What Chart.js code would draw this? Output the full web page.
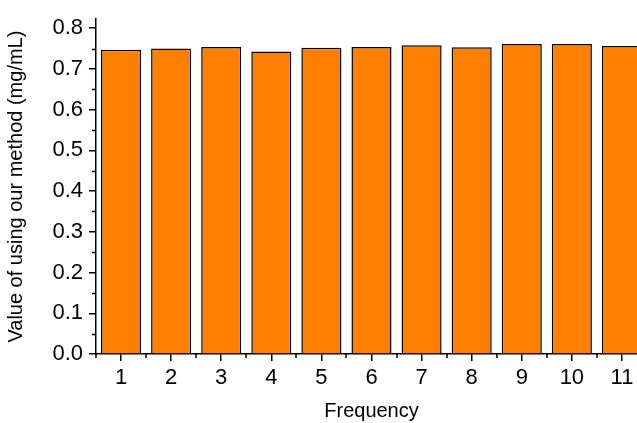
<!DOCTYPE html>
<html>
<head>
<meta charset="utf-8">
<script src="https://cdn.jsdelivr.net/npm/chart.js@4.4.1/dist/chart.umd.min.js"></script>
<style>
  html, body { margin: 0; padding: 0; background: #fff; overflow: hidden; }
  #wrap { position: relative; width: 647px; height: 423px; }
</style>
</head>
<body>
<div id="wrap"><canvas id="myChart"></canvas></div>
<script>
const categories = ['1', '2', '3', '4', '5', '6', '7', '8', '9', '10', '11'];
const methodValues = [0.747, 0.750, 0.754, 0.743, 0.752, 0.754, 0.758, 0.753, 0.761, 0.761, 0.756];
const yTicks = [0, 0.1, 0.2, 0.3, 0.4, 0.5, 0.6, 0.7, 0.8];
const yMinorTicks = [0.05, 0.15, 0.25, 0.35, 0.45, 0.55, 0.65, 0.75];

const ctx = document.getElementById('myChart').getContext('2d');
const fontFamily = '"Liberation Sans", Arial, sans-serif';

// short minor ticks on both axes
const minorTicks = {
    id: 'minorTicks',
    afterDraw(chart) {
        const c = chart.ctx;
        const x = chart.scales.x;
        const y = chart.scales.y;
        c.save();
        c.strokeStyle = '#000';
        c.lineWidth = 1.5;
        c.beginPath();
        yMinorTicks.forEach(v => {
            const py = Math.round(y.getPixelForValue(v)) + 0.5;
            c.moveTo(x.left - 4, py);
            c.lineTo(x.left, py);
        });
        for (let i = 0; i <= categories.length; i++) {
            const px = Math.round(x.getPixelForValue(i - 0.5));
            c.moveTo(px, y.bottom);
            c.lineTo(px, y.bottom + 4);
        }
        c.stroke();
        c.restore();
    }
};

new Chart(ctx, {
    type: 'bar',
    data: {
        labels: categories,
        datasets: [{
            label: 'Value',
            data: methodValues,
            backgroundColor: '#FF8000',
            borderColor: '#000',
            borderWidth: 1.5,
            barPercentage: 0.8,
            categoryPercentage: 1.0
        }]
    },
    options: {
        responsive: true,
        maintainAspectRatio: false,
        animation: false,
        layout: { padding: { top: 16, right: 0, left: 0, bottom: 0 } },
        plugins: {
            legend: { display: false },
            tooltip: { enabled: false }
        },
        scales: {
            x: {
                offset: true,
                grid: { drawOnChartArea: false, offset: false, tickLength: 7, color: '#000', lineWidth: 1.5 },
                border: { color: '#000', width: 1.5 },
                ticks: { color: '#000', font: { family: fontFamily, size: 22 }, padding: 4, maxRotation: 0 },
                title: { display: true, text: 'Frequency', color: '#000', font: { family: fontFamily, size: 20 }, padding: { top: 1, bottom: 0 } },
                afterFit(scale) { scale.height = 69; }
            },
            y: {
                min: 0,
                max: 0.822,
                afterBuildTicks(scale) { scale.ticks = yTicks.map(v => ({ value: v })); },
                grid: { drawOnChartArea: false, tickLength: 7, color: '#000', lineWidth: 1.5 },
                border: { color: '#000', width: 1.5 },
                ticks: { color: '#000', font: { family: fontFamily, size: 22 }, padding: 6, callback: v => v.toFixed(1) },
                title: { display: true, text: 'Value of using our method (mg/mL)', color: '#000', font: { family: fontFamily, size: 20 }, padding: { top: 4, bottom: 0 } },
                afterFit(scale) { scale.width = 96; }
            }
        }
    },
    plugins: [minorTicks]
});
</script>
</body>
</html>
